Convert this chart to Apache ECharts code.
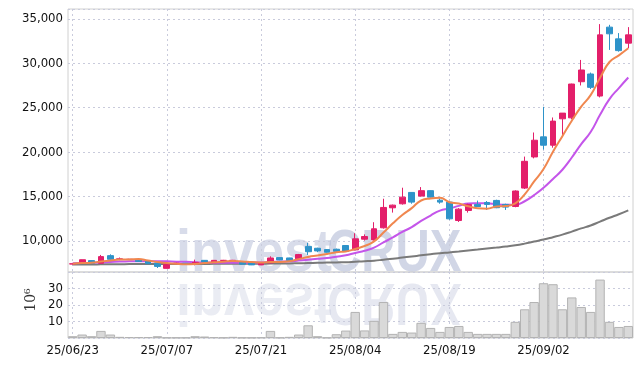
<!DOCTYPE html>
<html><head><meta charset="utf-8">
<script src="https://cdn.jsdelivr.net/npm/echarts@6/dist/echarts.min.js"></script>
<style>html,body{margin:0;padding:0;background:#fff}#c{width:642px;height:366px}</style>
</head><body><div id="c"></div>
<script>
var dates = ['25/06/23','25/06/24','25/06/25','25/06/26','25/06/27','25/06/30','25/07/01','25/07/02','25/07/03','25/07/04',
'25/07/07','25/07/08','25/07/09','25/07/10','25/07/11','25/07/14','25/07/15','25/07/16','25/07/17','25/07/18',
'25/07/21','25/07/22','25/07/23','25/07/24','25/07/25','25/07/28','25/07/29','25/07/30','25/07/31','25/08/01',
'25/08/04','25/08/05','25/08/06','25/08/07','25/08/08','25/08/11','25/08/12','25/08/13','25/08/14','25/08/18',
'25/08/19','25/08/20','25/08/21','25/08/22','25/08/25','25/08/26','25/08/27','25/08/28','25/08/29','25/09/01',
'25/09/02','25/09/03','25/09/04','25/09/05','25/09/08','25/09/09','25/09/10','25/09/11','25/09/12','25/09/15'];
var opens  = [7420,7500,7800,7500,8360,7950,7930,7850,7760,7540, 6930,7450,7500,7430,7830,7570,7820,7820,7610,7570,
7320,7540,8140,8100,8000,9400,9190,9040,9080,9500, 9010,10210,10130,11490,13740,14190,15470,15060,15670,14600,
14380,12310,13440,14120,14340,14570,14120,13890,15960,19460, 21720,20780,23750,23860,27920,28790,26310,34060,32740,32260];
var closes = [7440,7900,7500,8250,7950,8000,7950,7700,7450,7150, 7350,7520,7480,7610,7650,7830,7830,7830,7400,7320,
7540,8100,7880,7830,8480,8800,8890,8740,8850,8850, 10250,10510,11380,13780,14040,14940,14380,15670,14940,14380,
12500,13590,14120,13890,14120,13750,13820,15630,18970,21340, 20780,23490,24390,27660,29240,27290,33190,33310,31420,33190];
var lows   = [7380,7480,7480,7480,7900,7850,7880,7650,7420,6970, 6920,7420,7440,7270,7620,7550,7780,7780,7380,7300,
7300,7520,7850,7800,7980,8440,8750,8700,8750,8800, 8950,10050,10050,11400,13200,14100,14200,15000,14900,14200,
12400,12150,13200,13850,13500,13700,13500,13800,15850,19300, 20290,20500,21900,23700,27500,27100,26160,31500,31300,31690];
var highs  = [7480,7920,7820,8440,8510,8150,8000,7900,7800,7560, 7380,7560,7540,7910,7860,7860,7880,7880,7640,7600,
7560,8280,8160,8120,8550,9800,9250,9100,9150,9550, 10880,10750,12120,14760,14100,16000,15500,16070,15700,14800,
14420,13700,14200,14550,14500,14650,14200,15700,19500,22210, 25100,23900,24400,27700,30370,28950,34400,34320,33390,34060];
var ma5  = [7450,7520,7560,7700,7808,7920,7930,7970,7810,7650, 7520,7434,7390,7422,7522,7618,7680,7750,7708,7642,
7584,7638,7648,7734,7966,8218,8376,8548,8752,8826, 9116,9440,9968,10954,11992,12930,13704,14562,14794,14862,
14374,14216,13906,13696,13644,13894,13940,14242,15258,16702, 18108,20042,21794,23532,25112,26414,28354,30138,30890,31680];
var ma10 = [7500,7530,7560,7600,7650,7700,7720,7740,7740,7729, 7720,7682,7680,7616,7586,7569,7557,7570,7565,7582,
7601,7659,7699,7721,7804,7901,8007,8098,8243,8396, 8667,8908,9258,9853,10409,11023,11572,12265,12874,13427,
13652,13960,14234,14245,14253,14134,14078,14074,14477,15173, 16001,16991,18018,19395,20907,22261,24198,25966,27211,28396];
var ma60 = [7352,7361,7363,7378,7388,7399,7409,7415,7417,7413, 7413,7416,7418,7423,7428,7436,7444,7452,7452,7452,
7455,7468,7476,7484,7503,7527,7553,7576,7601,7626, 7675,7727,7794,7902,8013,8140,8257,8395,8522,8639,
8725,8829,8942,9051,9164,9270,9378,9516,9710,9943, 10167,10436,10720,11058,11423,11755,12186,12619,13020,13451];
var volumes = [1.1,2.1,1.1,4.3,2.1,0.7,0.6,0.6,0.6,1.1, 0.3,0.3,0.3,1.1,0.9,0.5,0.3,0.7,0.3,0.3,
0.4,4.3,0.3,0.7,2.1,7.7,1.1,0.3,2.3,4.5, 15.8,4.6,10.4,21.8,2.5,3.7,3.3,9.2,6.1,3.7,
6.7,7.3,3.7,2.5,2.5,2.5,2.5,9.8,17.4,21.8, 33.2,32.6,17.4,24.6,18.8,15.8,35.4,9.8,6.7,7.3];
var priceTicks = [10000,15000,20000,25000,30000,35000];
var volTicks = [10,20,30];

var candles = dates.map(function(d,i){ return [opens[i], closes[i], lows[i], highs[i]]; });
var labelFont = 'DejaVu Sans Condensed';
var gridLine = {show:true, lineStyle:{color:'#c9cbdc', type:[2,3], width:1}};
var every10 = function(i){ return i % 10 === 0; };
var wmFont = 'bold 60px "Liberation Sans"';

var chart = echarts.init(document.getElementById('c'), null, {renderer:'canvas'});
chart.setOption({
  animation:false,
  backgroundColor:'#fff',
  grid:[
    {left:68, right:9, top:9, height:263, show:true, borderColor:'#d0d0d0', borderWidth:1, backgroundColor:'transparent'},
    {left:68, right:9, top:272, height:66, show:true, borderColor:'#d0d0d0', borderWidth:1, backgroundColor:'transparent'}
  ],
  graphic:[
    {type:'group', x:176, y:254, z:0, silent:true, children:[
      {type:'text', x:0, y:0, scaleX:0.9, style:{text:'invest', font:wmFont, fill:'rgba(190,196,220,0.6)', verticalAlign:'middle', align:'left'}},
      {type:'text', x:151, y:0, scaleX:0.79, style:{text:'CRUX', font:wmFont, fill:'rgba(178,186,214,0.6)', verticalAlign:'middle', align:'left'}}
    ]},
    {type:'group', x:176, y:301, z:0, silent:true, scaleY:-1, children:[
      {type:'text', x:0, y:0, scaleX:0.9, style:{text:'invest', font:wmFont, fill:'rgba(190,196,220,0.33)', verticalAlign:'middle', align:'left'}},
      {type:'text', x:151, y:0, scaleX:0.79, style:{text:'CRUX', font:wmFont, fill:'rgba(178,186,214,0.33)', verticalAlign:'middle', align:'left'}}
    ]},
    {type:'text', x:31, y:300, rotation:Math.PI/2, silent:true, style:{text:'10⁶', font:'14px "DejaVu Serif"', fill:'#333', align:'center', verticalAlign:'middle'}}
  ],
  xAxis:[
    {type:'category', gridIndex:0, data:dates, boundaryGap:true,
     axisLine:{show:false}, axisTick:{show:false, alignWithLabel:true}, axisLabel:{show:false},
     splitLine:{show:true, interval:every10, alignWithLabel:true, lineStyle:{color:'#c9cbdc', type:[2,3]}}},
    {type:'category', gridIndex:1, data:dates, boundaryGap:true,
     axisLine:{show:false}, axisTick:{show:false, alignWithLabel:true},
     axisLabel:{show:true, interval:every10, color:'#111', fontFamily:labelFont, fontSize:13, margin:6},
     splitLine:{show:true, interval:every10, alignWithLabel:true, lineStyle:{color:'#c9cbdc', type:[2,3]}}}
  ],
  yAxis:[
    {type:'value', gridIndex:0, min:6520, max:36100, splitNumber:5, position:'left',
     axisLine:{show:false}, axisTick:{show:false},
     axisLabel:{color:'#111', fontFamily:labelFont, fontSize:13, margin:5,
       formatter:function(v){ return priceTicks.indexOf(v) >= 0 ? v.toLocaleString('en-US') : ''; }},
     splitLine:gridLine},
    {type:'value', gridIndex:1, min:0, max:40, interval:10,
     axisLine:{show:false}, axisTick:{show:false},
     axisLabel:{color:'#111', fontFamily:labelFont, fontSize:13, margin:5,
       formatter:function(v){ return volTicks.indexOf(v) >= 0 ? String(v) : ''; }},
     splitLine:gridLine}
  ],
  series:[
    {type:'bar', xAxisIndex:1, yAxisIndex:1, data:volumes, barCategoryGap:'0%', z:2,
     itemStyle:{color:'#d9d9d9', borderColor:'#b3b3b3', borderWidth:1}},
    {type:'line', data:ma60, xAxisIndex:0, yAxisIndex:0, smooth:true, showSymbol:false, z:3,
     lineStyle:{color:'#7a7a7a', width:2}},
    {type:'line', data:ma10, xAxisIndex:0, yAxisIndex:0, smooth:true, showSymbol:false, z:3,
     lineStyle:{color:'#c455ea', width:2}},
    {type:'candlestick', xAxisIndex:0, yAxisIndex:0, data:candles, barWidth:'68%', z:4,
     itemStyle:{color:'#e31f6a', color0:'#2e93c9', borderColor:'#e31f6a', borderColor0:'#2e93c9', borderWidth:1}},
    {type:'line', data:ma5, xAxisIndex:0, yAxisIndex:0, smooth:true, showSymbol:false, z:5,
     lineStyle:{color:'#f0874f', width:2}}
  ]
});
</script></body></html>
